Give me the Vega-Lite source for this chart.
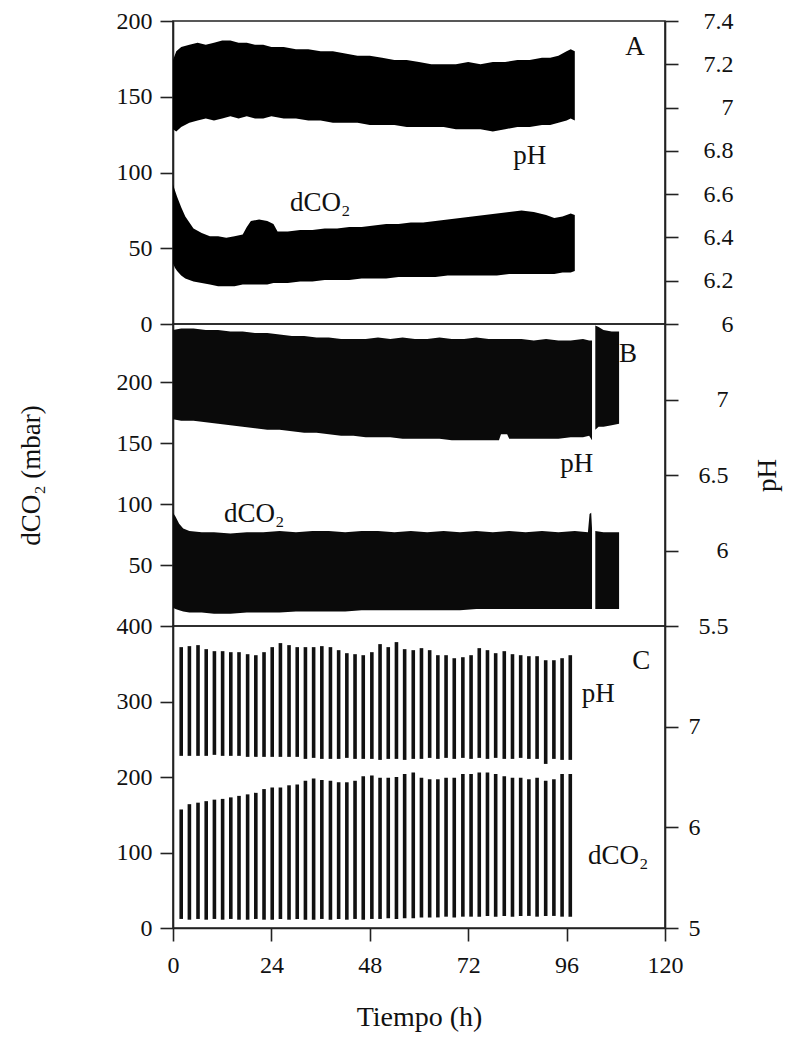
{
  "$schema": "https://vega.github.io/schema/vega-lite/v6.json",
  "background": "white",
  "padding": {"left": 16, "top": 8, "right": 3, "bottom": 5},
  "spacing": 0,
  "bounds": "flush",
  "datasets": {
    "A_ph": [
      {"t": 0, "lo": 6.90, "hi": 7.22}, {"t": 0.8, "lo": 6.89, "hi": 7.26}, {"t": 2, "lo": 6.91, "hi": 7.28},
      {"t": 4, "lo": 6.93, "hi": 7.29}, {"t": 6, "lo": 6.94, "hi": 7.30}, {"t": 8, "lo": 6.95, "hi": 7.29},
      {"t": 10, "lo": 6.94, "hi": 7.30}, {"t": 12, "lo": 6.95, "hi": 7.31}, {"t": 14, "lo": 6.96, "hi": 7.31},
      {"t": 16, "lo": 6.95, "hi": 7.30}, {"t": 18, "lo": 6.96, "hi": 7.30}, {"t": 20, "lo": 6.95, "hi": 7.29},
      {"t": 22, "lo": 6.95, "hi": 7.29}, {"t": 24, "lo": 6.96, "hi": 7.28}, {"t": 27, "lo": 6.95, "hi": 7.28},
      {"t": 30, "lo": 6.95, "hi": 7.27}, {"t": 33, "lo": 6.94, "hi": 7.27}, {"t": 36, "lo": 6.94, "hi": 7.26},
      {"t": 39, "lo": 6.93, "hi": 7.26}, {"t": 42, "lo": 6.93, "hi": 7.25}, {"t": 45, "lo": 6.93, "hi": 7.24},
      {"t": 48, "lo": 6.92, "hi": 7.24}, {"t": 51, "lo": 6.92, "hi": 7.23}, {"t": 54, "lo": 6.92, "hi": 7.22},
      {"t": 57, "lo": 6.91, "hi": 7.22}, {"t": 60, "lo": 6.91, "hi": 7.21}, {"t": 63, "lo": 6.91, "hi": 7.20},
      {"t": 66, "lo": 6.91, "hi": 7.20}, {"t": 69, "lo": 6.90, "hi": 7.20}, {"t": 72, "lo": 6.90, "hi": 7.21},
      {"t": 75, "lo": 6.90, "hi": 7.20}, {"t": 78, "lo": 6.89, "hi": 7.21}, {"t": 81, "lo": 6.90, "hi": 7.21},
      {"t": 84, "lo": 6.91, "hi": 7.22}, {"t": 87, "lo": 6.91, "hi": 7.22}, {"t": 90, "lo": 6.92, "hi": 7.23},
      {"t": 92, "lo": 6.92, "hi": 7.23}, {"t": 94, "lo": 6.93, "hi": 7.24}, {"t": 96, "lo": 6.94, "hi": 7.26},
      {"t": 97, "lo": 6.95, "hi": 7.27}, {"t": 98, "lo": 6.94, "hi": 7.26}
    ],
    "A_co2": [
      {"t": 0, "lo": 40, "hi": 92}, {"t": 0.5, "lo": 37, "hi": 88}, {"t": 1, "lo": 35, "hi": 84},
      {"t": 2, "lo": 32, "hi": 77}, {"t": 3, "lo": 30, "hi": 71}, {"t": 4, "lo": 29, "hi": 67},
      {"t": 5, "lo": 28, "hi": 63}, {"t": 7, "lo": 27, "hi": 60}, {"t": 9, "lo": 26, "hi": 58},
      {"t": 11, "lo": 25, "hi": 58}, {"t": 13, "lo": 25, "hi": 57}, {"t": 15, "lo": 25, "hi": 58},
      {"t": 17, "lo": 26, "hi": 59}, {"t": 18, "lo": 26, "hi": 64}, {"t": 19, "lo": 26, "hi": 68},
      {"t": 21, "lo": 26, "hi": 69}, {"t": 23, "lo": 26, "hi": 68}, {"t": 24.5, "lo": 27, "hi": 66},
      {"t": 25.5, "lo": 27, "hi": 61}, {"t": 28, "lo": 27, "hi": 61}, {"t": 31, "lo": 28, "hi": 62},
      {"t": 34, "lo": 28, "hi": 62}, {"t": 37, "lo": 29, "hi": 63}, {"t": 40, "lo": 29, "hi": 63},
      {"t": 43, "lo": 29, "hi": 64}, {"t": 46, "lo": 30, "hi": 64}, {"t": 49, "lo": 30, "hi": 65},
      {"t": 52, "lo": 30, "hi": 66}, {"t": 55, "lo": 31, "hi": 66}, {"t": 58, "lo": 31, "hi": 67},
      {"t": 61, "lo": 31, "hi": 67}, {"t": 64, "lo": 31, "hi": 68}, {"t": 67, "lo": 32, "hi": 69},
      {"t": 70, "lo": 32, "hi": 70}, {"t": 73, "lo": 32, "hi": 71}, {"t": 76, "lo": 32, "hi": 72},
      {"t": 79, "lo": 32, "hi": 73}, {"t": 82, "lo": 33, "hi": 74}, {"t": 85, "lo": 33, "hi": 75},
      {"t": 88, "lo": 33, "hi": 74}, {"t": 91, "lo": 33, "hi": 72}, {"t": 93, "lo": 33, "hi": 70},
      {"t": 95, "lo": 34, "hi": 71}, {"t": 97, "lo": 34, "hi": 73}, {"t": 98, "lo": 35, "hi": 72}
    ],
    "B_ph": [
      {"seg": 1, "t": 0, "lo": 6.87, "hi": 7.46}, {"seg": 1, "t": 2, "lo": 6.86, "hi": 7.47},
      {"seg": 1, "t": 5, "lo": 6.86, "hi": 7.47}, {"seg": 1, "t": 8, "lo": 6.85, "hi": 7.46},
      {"seg": 1, "t": 11, "lo": 6.84, "hi": 7.46}, {"seg": 1, "t": 14, "lo": 6.83, "hi": 7.45},
      {"seg": 1, "t": 17, "lo": 6.82, "hi": 7.45}, {"seg": 1, "t": 20, "lo": 6.81, "hi": 7.44},
      {"seg": 1, "t": 23, "lo": 6.80, "hi": 7.44}, {"seg": 1, "t": 26, "lo": 6.80, "hi": 7.43},
      {"seg": 1, "t": 29, "lo": 6.79, "hi": 7.42}, {"seg": 1, "t": 32, "lo": 6.78, "hi": 7.42},
      {"seg": 1, "t": 35, "lo": 6.78, "hi": 7.41}, {"seg": 1, "t": 38, "lo": 6.77, "hi": 7.41},
      {"seg": 1, "t": 41, "lo": 6.76, "hi": 7.40}, {"seg": 1, "t": 44, "lo": 6.76, "hi": 7.40},
      {"seg": 1, "t": 47, "lo": 6.75, "hi": 7.40}, {"seg": 1, "t": 50, "lo": 6.75, "hi": 7.41},
      {"seg": 1, "t": 53, "lo": 6.75, "hi": 7.40}, {"seg": 1, "t": 56, "lo": 6.74, "hi": 7.41},
      {"seg": 1, "t": 59, "lo": 6.74, "hi": 7.40}, {"seg": 1, "t": 62, "lo": 6.74, "hi": 7.40},
      {"seg": 1, "t": 65, "lo": 6.74, "hi": 7.41}, {"seg": 1, "t": 68, "lo": 6.73, "hi": 7.40},
      {"seg": 1, "t": 71, "lo": 6.73, "hi": 7.40}, {"seg": 1, "t": 74, "lo": 6.73, "hi": 7.41},
      {"seg": 1, "t": 77, "lo": 6.73, "hi": 7.40}, {"seg": 1, "t": 79.5, "lo": 6.73, "hi": 7.40},
      {"seg": 1, "t": 80, "lo": 6.77, "hi": 7.40}, {"seg": 1, "t": 81.5, "lo": 6.77, "hi": 7.40},
      {"seg": 1, "t": 82, "lo": 6.74, "hi": 7.40}, {"seg": 1, "t": 85, "lo": 6.74, "hi": 7.40},
      {"seg": 1, "t": 88, "lo": 6.74, "hi": 7.39}, {"seg": 1, "t": 91, "lo": 6.74, "hi": 7.40},
      {"seg": 1, "t": 94, "lo": 6.74, "hi": 7.39}, {"seg": 1, "t": 97, "lo": 6.75, "hi": 7.39},
      {"seg": 1, "t": 100, "lo": 6.75, "hi": 7.40}, {"seg": 1, "t": 101.5, "lo": 6.76, "hi": 7.39},
      {"seg": 1, "t": 102.2, "lo": 6.73, "hi": 7.39},
      {"seg": 2, "t": 103.0, "lo": 6.80, "hi": 7.49}, {"seg": 2, "t": 103.8, "lo": 6.82, "hi": 7.48},
      {"seg": 2, "t": 105, "lo": 6.82, "hi": 7.46}, {"seg": 2, "t": 107, "lo": 6.83, "hi": 7.45},
      {"seg": 2, "t": 108.8, "lo": 6.84, "hi": 7.45}
    ],
    "B_co2": [
      {"seg": 1, "t": 0, "lo": 15, "hi": 93}, {"seg": 1, "t": 0.6, "lo": 14, "hi": 90},
      {"seg": 1, "t": 1.5, "lo": 13, "hi": 84}, {"seg": 1, "t": 2.5, "lo": 12, "hi": 80},
      {"seg": 1, "t": 4, "lo": 11, "hi": 78}, {"seg": 1, "t": 7, "lo": 11, "hi": 77},
      {"seg": 1, "t": 10, "lo": 10, "hi": 77}, {"seg": 1, "t": 14, "lo": 10, "hi": 76},
      {"seg": 1, "t": 18, "lo": 11, "hi": 77}, {"seg": 1, "t": 22, "lo": 11, "hi": 77},
      {"seg": 1, "t": 26, "lo": 11, "hi": 78}, {"seg": 1, "t": 30, "lo": 12, "hi": 77},
      {"seg": 1, "t": 34, "lo": 12, "hi": 78}, {"seg": 1, "t": 38, "lo": 12, "hi": 78},
      {"seg": 1, "t": 42, "lo": 12, "hi": 77}, {"seg": 1, "t": 46, "lo": 13, "hi": 78},
      {"seg": 1, "t": 50, "lo": 13, "hi": 78}, {"seg": 1, "t": 54, "lo": 13, "hi": 77},
      {"seg": 1, "t": 58, "lo": 13, "hi": 78}, {"seg": 1, "t": 62, "lo": 13, "hi": 77},
      {"seg": 1, "t": 66, "lo": 13, "hi": 78}, {"seg": 1, "t": 70, "lo": 13, "hi": 77},
      {"seg": 1, "t": 74, "lo": 14, "hi": 78}, {"seg": 1, "t": 78, "lo": 14, "hi": 77},
      {"seg": 1, "t": 82, "lo": 14, "hi": 78}, {"seg": 1, "t": 86, "lo": 14, "hi": 77},
      {"seg": 1, "t": 90, "lo": 14, "hi": 78}, {"seg": 1, "t": 94, "lo": 14, "hi": 77},
      {"seg": 1, "t": 98, "lo": 14, "hi": 78}, {"seg": 1, "t": 101.2, "lo": 14, "hi": 77},
      {"seg": 1, "t": 101.6, "lo": 14, "hi": 92}, {"seg": 1, "t": 102.0, "lo": 14, "hi": 93},
      {"seg": 1, "t": 102.2, "lo": 14, "hi": 80},
      {"seg": 2, "t": 103.0, "lo": 14, "hi": 78}, {"seg": 2, "t": 105, "lo": 14, "hi": 77},
      {"seg": 2, "t": 107, "lo": 14, "hi": 77}, {"seg": 2, "t": 108.8, "lo": 14, "hi": 77}
    ],
    "C": [
      {"t": 2.0, "phHi": 7.79, "phLo": 6.71, "coHi": 157, "coLo": 12},
      {"t": 4.0, "phHi": 7.80, "phLo": 6.71, "coHi": 164, "coLo": 11},
      {"t": 6.1, "phHi": 7.81, "phLo": 6.71, "coHi": 166, "coLo": 12},
      {"t": 8.1, "phHi": 7.77, "phLo": 6.71, "coHi": 168, "coLo": 11},
      {"t": 10.1, "phHi": 7.75, "phLo": 6.72, "coHi": 170, "coLo": 12},
      {"t": 12.1, "phHi": 7.75, "phLo": 6.71, "coHi": 171, "coLo": 11},
      {"t": 14.1, "phHi": 7.74, "phLo": 6.71, "coHi": 173, "coLo": 12},
      {"t": 16.1, "phHi": 7.74, "phLo": 6.71, "coHi": 175, "coLo": 11},
      {"t": 18.2, "phHi": 7.72, "phLo": 6.70, "coHi": 177, "coLo": 11},
      {"t": 20.2, "phHi": 7.71, "phLo": 6.70, "coHi": 179, "coLo": 12},
      {"t": 22.2, "phHi": 7.74, "phLo": 6.70, "coHi": 184, "coLo": 11},
      {"t": 24.2, "phHi": 7.79, "phLo": 6.70, "coHi": 186, "coLo": 11},
      {"t": 26.2, "phHi": 7.83, "phLo": 6.70, "coHi": 186, "coLo": 12},
      {"t": 28.3, "phHi": 7.81, "phLo": 6.70, "coHi": 189, "coLo": 11},
      {"t": 30.3, "phHi": 7.79, "phLo": 6.70, "coHi": 190, "coLo": 12},
      {"t": 32.3, "phHi": 7.79, "phLo": 6.68, "coHi": 195, "coLo": 11},
      {"t": 34.3, "phHi": 7.79, "phLo": 6.69, "coHi": 198, "coLo": 11},
      {"t": 36.3, "phHi": 7.80, "phLo": 6.68, "coHi": 196, "coLo": 12},
      {"t": 38.4, "phHi": 7.79, "phLo": 6.68, "coHi": 195, "coLo": 11},
      {"t": 40.4, "phHi": 7.76, "phLo": 6.68, "coHi": 193, "coLo": 12},
      {"t": 42.4, "phHi": 7.73, "phLo": 6.69, "coHi": 193, "coLo": 11},
      {"t": 44.4, "phHi": 7.72, "phLo": 6.68, "coHi": 195, "coLo": 12},
      {"t": 46.4, "phHi": 7.71, "phLo": 6.68, "coHi": 201, "coLo": 11},
      {"t": 48.5, "phHi": 7.74, "phLo": 6.68, "coHi": 202, "coLo": 12},
      {"t": 50.5, "phHi": 7.82, "phLo": 6.67, "coHi": 199, "coLo": 12},
      {"t": 52.5, "phHi": 7.79, "phLo": 6.68, "coHi": 199, "coLo": 13},
      {"t": 54.5, "phHi": 7.84, "phLo": 6.68, "coHi": 200, "coLo": 12},
      {"t": 56.5, "phHi": 7.77, "phLo": 6.67, "coHi": 204, "coLo": 13},
      {"t": 58.6, "phHi": 7.76, "phLo": 6.68, "coHi": 206, "coLo": 13},
      {"t": 60.6, "phHi": 7.78, "phLo": 6.68, "coHi": 199, "coLo": 14},
      {"t": 62.6, "phHi": 7.76, "phLo": 6.69, "coHi": 197, "coLo": 14},
      {"t": 64.6, "phHi": 7.71, "phLo": 6.68, "coHi": 197, "coLo": 14},
      {"t": 66.6, "phHi": 7.71, "phLo": 6.69, "coHi": 199, "coLo": 15},
      {"t": 68.6, "phHi": 7.68, "phLo": 6.68, "coHi": 199, "coLo": 14},
      {"t": 70.7, "phHi": 7.69, "phLo": 6.69, "coHi": 204, "coLo": 15},
      {"t": 72.7, "phHi": 7.71, "phLo": 6.68, "coHi": 204, "coLo": 15},
      {"t": 74.7, "phHi": 7.78, "phLo": 6.69, "coHi": 206, "coLo": 15},
      {"t": 76.7, "phHi": 7.76, "phLo": 6.68, "coHi": 206, "coLo": 16},
      {"t": 78.7, "phHi": 7.73, "phLo": 6.69, "coHi": 204, "coLo": 15},
      {"t": 80.8, "phHi": 7.75, "phLo": 6.68, "coHi": 201, "coLo": 16},
      {"t": 82.8, "phHi": 7.72, "phLo": 6.68, "coHi": 199, "coLo": 15},
      {"t": 84.8, "phHi": 7.71, "phLo": 6.69, "coHi": 199, "coLo": 16},
      {"t": 86.8, "phHi": 7.70, "phLo": 6.68, "coHi": 197, "coLo": 16},
      {"t": 88.8, "phHi": 7.70, "phLo": 6.68, "coHi": 199, "coLo": 15},
      {"t": 90.9, "phHi": 7.66, "phLo": 6.63, "coHi": 195, "coLo": 16},
      {"t": 92.9, "phHi": 7.66, "phLo": 6.68, "coHi": 197, "coLo": 16},
      {"t": 94.9, "phHi": 7.68, "phLo": 6.67, "coHi": 204, "coLo": 15},
      {"t": 96.9, "phHi": 7.71, "phLo": 6.67, "coHi": 204, "coLo": 15}
    ],
    "txtA": [
      {"label": "A", "t": 112.7, "v": 183},
      {"label": "pH", "t": 87, "v": 111},
      {"label": "dCO₂", "t": 35.9, "v": 80}
    ],
    "txtB": [
      {"label": "B", "t": 111, "v": 223},
      {"label": "pH", "t": 98.5, "v": 133},
      {"label": "dCO₂", "t": 19.8, "v": 92}
    ],
    "txtC": [
      {"label": "C", "t": 114.2, "v": 354},
      {"label": "pH", "t": 103.7, "v": 310},
      {"label": "dCO₂", "t": 108.6, "v": 96}
    ]
  },
  "vconcat": [
    {
      "width": 492,
      "height": 303,
      "layer": [
        {
          "layer": [
            {
              "data": {"name": "A_co2"},
              "mark": {"type": "area", "color": "#000"},
              "encoding": {
                "x": {"field": "t", "type": "quantitative", "scale": {"domain": [0, 120], "nice": false}, "axis": null},
                "y": {"field": "hi", "type": "quantitative", "scale": {"domain": [0, 200], "nice": false, "zero": false},
                      "axis": {"values": [0, 50, 100, 150, 200], "title": null, "labelPadding": 8}},
                "y2": {"field": "lo"}
              }
            },
            {
              "data": {"name": "txtA"},
              "mark": {"type": "text", "fontSize": 27, "font": "Liberation Serif", "color": "#111", "align": "center", "baseline": "middle"},
              "encoding": {
                "x": {"field": "t", "type": "quantitative", "axis": null},
                "y": {"field": "v", "type": "quantitative", "title": null},
                "text": {"field": "label"}
              }
            }
          ]
        },
        {
          "data": {"name": "A_ph"},
          "mark": {"type": "area", "color": "#000"},
          "encoding": {
            "x": {"field": "t", "type": "quantitative", "scale": {"domain": [0, 120], "nice": false}, "axis": null},
            "y": {"field": "hi", "type": "quantitative", "scale": {"domain": [6, 7.4], "nice": false, "zero": false},
                  "axis": {"orient": "right", "values": [6, 6.2, 6.4, 6.6, 6.8, 7, 7.2, 7.4], "format": "~g", "labelAlign": "right", "labelPadding": 55, "title": null}},
            "y2": {"field": "lo"}
          }
        }
      ],
      "resolve": {"scale": {"y": "independent"}}
    },
    {
      "width": 492,
      "height": 302,
      "layer": [
        {
          "layer": [
            {
              "data": {"name": "B_co2"},
              "mark": {"type": "area", "color": "#0a0a0a"},
              "encoding": {
                "x": {"field": "t", "type": "quantitative", "scale": {"domain": [0, 120], "nice": false}, "axis": null},
                "y": {"field": "hi", "type": "quantitative", "scale": {"domain": [0, 248], "nice": false, "zero": false},
                      "title": "dCO₂ (mbar)",
                      "axis": {"values": [50, 100, 150, 200], "title": "dCO₂ (mbar)", "titlePadding": 71, "labelPadding": 8}},
                "y2": {"field": "lo"},
                "detail": {"field": "seg"}
              }
            },
            {
              "data": {"name": "txtB"},
              "mark": {"type": "text", "fontSize": 27, "font": "Liberation Serif", "color": "#111", "align": "center", "baseline": "middle"},
              "encoding": {
                "x": {"field": "t", "type": "quantitative", "axis": null},
                "y": {"field": "v", "type": "quantitative", "title": "dCO₂ (mbar)"},
                "text": {"field": "label"}
              }
            }
          ]
        },
        {
          "data": {"name": "B_ph"},
          "mark": {"type": "area", "color": "#0a0a0a"},
          "encoding": {
            "x": {"field": "t", "type": "quantitative", "scale": {"domain": [0, 120], "nice": false}, "axis": null},
            "y": {"field": "hi", "type": "quantitative", "scale": {"domain": [5.5, 7.5], "nice": false, "zero": false},
                  "axis": {"orient": "right", "values": [5.5, 6, 6.5, 7], "format": "~g", "labelAlign": "right", "labelPadding": 50,
                           "title": "pH", "titleAngle": 270, "titleBaseline": "top", "titlePadding": 26}},
            "y2": {"field": "lo"},
            "detail": {"field": "seg"}
          }
        }
      ],
      "resolve": {"scale": {"y": "independent"}}
    },
    {
      "width": 492,
      "height": 302,
      "layer": [
        {
          "layer": [
            {
              "data": {"name": "C"},
              "mark": {"type": "rule", "color": "#111", "strokeWidth": 3.6},
              "encoding": {
                "x": {"field": "t", "type": "quantitative", "scale": {"domain": [0, 120], "nice": false},
                      "axis": {"values": [0, 24, 48, 72, 96, 120], "title": "Tiempo (h)", "labelFlush": false, "labelPadding": 12, "titlePadding": 26, "titleFontSize": 28}},
                "y": {"field": "coHi", "type": "quantitative", "scale": {"domain": [0, 400], "nice": false, "zero": false},
                      "axis": {"values": [0, 100, 200, 300, 400], "title": null, "labelPadding": 8}},
                "y2": {"field": "coLo"}
              }
            },
            {
              "data": {"name": "txtC"},
              "mark": {"type": "text", "fontSize": 27, "font": "Liberation Serif", "color": "#111", "align": "center", "baseline": "middle"},
              "encoding": {
                "x": {"field": "t", "type": "quantitative", "title": "Tiempo (h)"},
                "y": {"field": "v", "type": "quantitative", "title": null},
                "text": {"field": "label"}
              }
            }
          ]
        },
        {
          "data": {"name": "C"},
          "mark": {"type": "rule", "color": "#111", "strokeWidth": 3.6},
          "encoding": {
            "x": {"field": "t", "type": "quantitative", "title": "Tiempo (h)"},
            "y": {"field": "phHi", "type": "quantitative", "scale": {"domain": [5, 8], "nice": false, "zero": false},
                  "axis": {"orient": "right", "values": [5, 6, 7], "format": "~g", "labelAlign": "left", "labelPadding": 10, "title": null}},
            "y2": {"field": "phLo"}
          }
        }
      ],
      "resolve": {"scale": {"y": "independent"}}
    }
  ],
  "config": {
    "font": "Liberation Serif",
    "view": {"stroke": "#222", "strokeWidth": 1.6},
    "axis": {
      "domainColor": "#222", "domainWidth": 1.6, "tickColor": "#222", "tickWidth": 1.6, "tickSize": 13,
      "labelFont": "Liberation Serif", "labelFontSize": 24, "labelColor": "#111", "grid": false,
      "titleFont": "Liberation Serif", "titleFontWeight": "normal", "titleFontSize": 27, "titleColor": "#111"
    }
  }
}
